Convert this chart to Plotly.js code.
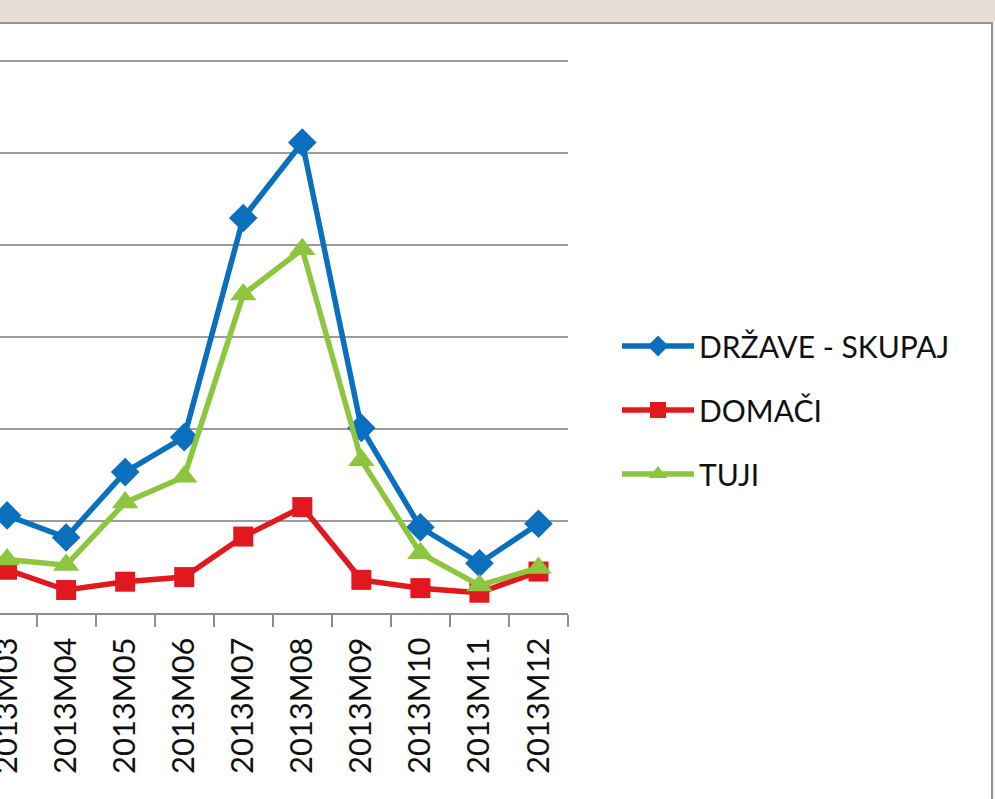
<!DOCTYPE html>
<html>
<head>
<meta charset="utf-8">
<script src="https://cdn.plot.ly/plotly-3.0.1.min.js"></script>
<style>
  html, body { margin: 0; padding: 0; background: #ffffff; width: 995px; height: 799px; overflow: hidden; }
  #chart { position: absolute; left: 0; top: 0; width: 995px; height: 799px; }
  #band { position: absolute; left: 0; top: 0; width: 995px; height: 22px; background: #e7ded7; }
  #bandline { position: absolute; left: 0; top: 22px; width: 995px; height: 2px; background: #8e959b; }
  #rightline { position: absolute; left: 991px; top: 22px; width: 2px; height: 777px; background: #8e959b; }
  #rightpad { position: absolute; left: 993px; top: 22px; width: 2px; height: 777px; background: #f4f4f4; }
</style>
</head>
<body>
<div id="chart"></div>
<div id="band"></div>
<div id="bandline"></div>
<div id="rightline"></div>
<div id="rightpad"></div>
<script>
const categories = ["2013M01","2013M02","2013M03","2013M04","2013M05","2013M06","2013M07","2013M08","2013M09","2013M10","2013M11","2013M12"];
const seriesNames = ["DRŽAVE - SKUPAJ", "DOMAČI", "TUJI"];
const skupaj = [1020, 1160, 1060, 820, 1530, 1910, 4290, 5110, 2010, 930, 540, 970];
const domaci = [420, 480, 470, 250, 340, 390, 830, 1150, 360, 270, 220, 450];
const tuji   = [600, 680, 580, 520, 1200, 1480, 3460, 3950, 1660, 650, 300, 490];

const blue = "#0a6fbd", red = "#e2181f", green = "#8cc63e";

const traces = [
  { x: categories, y: skupaj, name: seriesNames[0], type: "scatter", mode: "lines+markers",
    line: { color: blue, width: 5.5 }, marker: { symbol: "diamond", size: 22, color: blue },
    legendgroup: "a", cliponaxis: true },
  { x: categories, y: domaci, name: seriesNames[1], type: "scatter", mode: "lines+markers",
    line: { color: red, width: 5.5 }, marker: { symbol: "square", size: 20, color: red },
    legendgroup: "b", cliponaxis: true },
  { x: categories, y: tuji, name: seriesNames[2], type: "scatter", mode: "lines+markers",
    line: { color: green, width: 5.5 }, marker: { symbol: "triangle-up", size: 23, color: green },
    legendgroup: "c", cliponaxis: true }
];

const W = 995, H = 799;
const plotLeft = 0, plotRight = 568, plotBottom = 613;
const yMax = 6060;                       // a little headroom so the 6000 gridline is drawn
const pxPerUnit = 92 / 1000;
const plotTop = Math.round(61 - (yMax - 6000) * pxPerUnit);

const layout = {
  width: W, height: H,
  margin: { l: plotLeft, r: W - plotRight, t: plotTop, b: H - plotBottom, pad: 0 },
  paper_bgcolor: "rgba(0,0,0,0)",
  plot_bgcolor: "rgba(0,0,0,0)",
  font: { family: "Lato, 'Open Sans', sans-serif", color: "#111111" },
  showlegend: true,
  legend: {
    x: (617 - plotLeft) / (plotRight - plotLeft), xanchor: "left",
    y: (plotBottom - 320) / (plotBottom - plotTop), yanchor: "top",
    font: { family: "Lato, sans-serif", size: 30, color: "#111111" },
    bgcolor: "rgba(0,0,0,0)",
    traceorder: "grouped",
    tracegroupgap: 22,
    itemwidth: 72,
    itemclick: false
  },
  xaxis: {
    type: "category",
    categoryarray: categories,
    range: [1.88, 11.5],
    tickson: "boundaries",
    ticks: "outside", ticklen: 12, tickwidth: 2, tickcolor: "#8e8e8e",
    ticklabelstandoff: 10,
    showline: true, linecolor: "#8e8e8e", linewidth: 2,
    showgrid: false, zeroline: false,
    tickangle: -90,
    tickfont: { family: "Lato, sans-serif", size: 31, color: "#111111" },
    fixedrange: true
  },
  yaxis: {
    range: [0, yMax],
    dtick: 1000,
    showgrid: true, gridcolor: "#9a9ca0", gridwidth: 2,
    zeroline: false, showline: false,
    showticklabels: false, ticks: "",
    fixedrange: true
  }
};

Plotly.newPlot("chart", traces, layout, { displayModeBar: false, staticPlot: true });
</script>
</body>
</html>
